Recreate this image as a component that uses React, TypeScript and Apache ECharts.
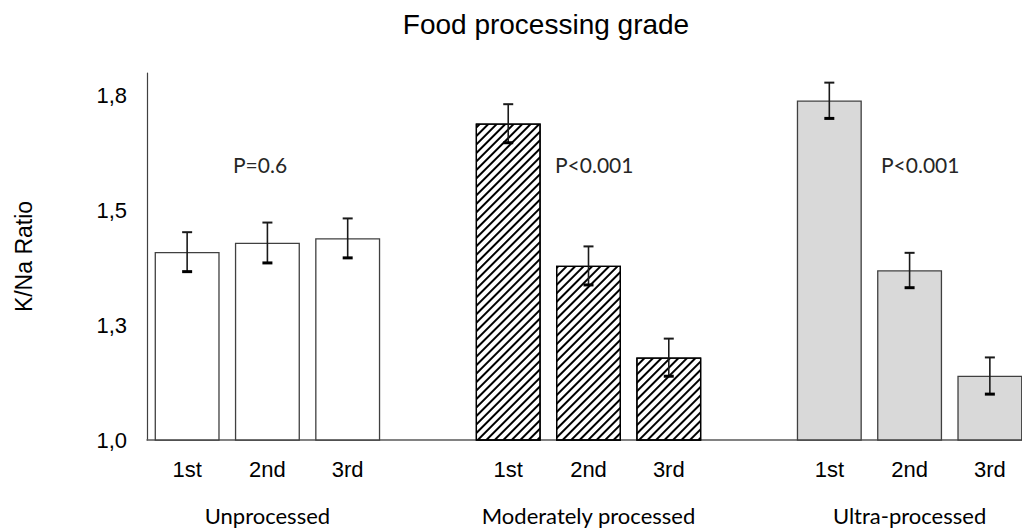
import React, { useEffect, useRef } from "react";
import * as echarts from "echarts";

// Tertiles of the K/Na ratio, laid out as three groups of bars with a blank slot between groups
const categories = ["1st", "2nd", "3rd", "", "1st", "2nd", "3rd", "", "1st", "2nd", "3rd"];
const groupNames = ["Unprocessed", "Moderately processed", "Ultra-processed"];

// Mean K/Na ratio per tertile
const unprocessed = [1.41, 1.43, 1.44];
const moderately = [1.69, 1.38, 1.18];
const ultra = [1.74, 1.37, 1.14];

// Error (±) per tertile
const unprocessedErr = [0.043, 0.044, 0.043];
const moderatelyErr = [0.042, 0.042, 0.041];
const ultraErr = [0.039, 0.038, 0.04];

// Trend test p-values per group
const pValues = ["P=0.6", "P<0.001", "P<0.001"];

// Y axis ticks and their printed labels (one decimal, comma separator)
const yTicks = [1.0, 1.25, 1.5, 1.75];
const yTickLabels = ["1,0", "1,3", "1,5", "1,8"];

const seriesValues = [unprocessed, moderately, ultra];
const seriesErrors = [unprocessedErr, moderatelyErr, ultraErr];

const hatch = {
  symbol: "rect",
  symbolSize: 1,
  color: "#000000",
  backgroundColor: "#ffffff",
  dashArrayX: [1, 0],
  dashArrayY: [2, 3.4],
  rotation: -Math.PI / 4,
};

const groupStyles = [
  { color: "#ffffff", borderColor: "#404040", borderWidth: 1.3 },
  { color: "#ffffff", borderColor: "#000000", borderWidth: 1.3, decal: hatch },
  { color: "#d9d9d9", borderColor: "#404040", borderWidth: 1.3 },
];

export default function App() {
  const ref = useRef<HTMLDivElement>(null);

  useEffect(() => {
    if (!ref.current) return;
    const chart = echarts.init(ref.current, null, { renderer: "svg" });

    const barData: any[] = categories.map(() => "-");
    const errData: number[][] = [];
    seriesValues.forEach((vals, g) => {
      vals.forEach((v, i) => {
        const idx = g * 4 + i;
        barData[idx] = { value: v, itemStyle: groupStyles[g] };
        errData.push([idx, v, seriesErrors[g][i]]);
      });
    });

    const groupAxisData = categories.map((_, idx) =>
      idx % 4 === 1 ? groupNames[Math.floor(idx / 4)] : ""
    );

    const pX = [233, 555, 881];

    chart.setOption({
      animation: false,
      backgroundColor: "#ffffff",
      grid: {
        left: 147,
        width: 883,
        top: 73,
        height: 367,
        containLabel: false,
        outerBoundsMode: "none",
      },
      xAxis: [
        {
          type: "category",
          data: categories,
          position: "bottom",
          axisLine: { show: true, lineStyle: { color: "#595959", width: 1.5 } },
          axisTick: { show: false },
          axisLabel: {
            interval: 0,
            margin: 18,
            color: "#000000",
            fontSize: 22,
            fontFamily: "Liberation Sans, Arial, sans-serif",
          },
        },
        {
          type: "category",
          data: groupAxisData,
          position: "bottom",
          axisLine: { show: false },
          axisTick: { show: false },
          axisLabel: {
            interval: 0,
            margin: 64,
            color: "#000000",
            fontSize: 22,
            fontFamily: "Lato, sans-serif",
          },
        },
      ],
      yAxis: {
        type: "value",
        min: 1.0,
        max: 1.8,
        interval: 0.25,
        name: "K/Na Ratio",
        nameLocation: "middle",
        nameGap: 112,
        nameTextStyle: {
          color: "#000000",
          fontSize: 23,
          fontFamily: "Liberation Sans, Arial, sans-serif",
        },
        axisLine: { show: true, lineStyle: { color: "#404040", width: 1.2 } },
        axisTick: { show: false },
        splitLine: { show: false },
        axisLabel: {
          margin: 20,
          color: "#000000",
          fontSize: 22,
          fontFamily: "Liberation Sans, Arial, sans-serif",
          formatter: (value: number) => {
            const i = yTicks.findIndex((t) => Math.abs(t - value) < 1e-6);
            return i >= 0 ? yTickLabels[i] : "";
          },
        },
      },
      graphic: [
        {
          type: "text",
          x: 546,
          y: 24,
          style: {
            text: "Food processing grade",
            fill: "#000000",
            fontSize: 28,
            fontFamily: "Liberation Sans, Arial, sans-serif",
            textAlign: "center",
            textVerticalAlign: "middle",
          },
        },
        ...pValues.map((p, g) => ({
          type: "text",
          x: pX[g],
          y: 164,
          style: {
            text: p,
            fill: "#262626",
            fontSize: 21,
            fontFamily: "Lato, sans-serif",
            textAlign: "left",
            textVerticalAlign: "middle",
          },
        })),
      ],
      series: [
        {
          type: "bar",
          data: barData,
          barWidth: 65,
          xAxisIndex: 0,
        },
        {
          type: "custom",
          xAxisIndex: 0,
          data: errData,
          encode: { x: 0, y: 1 },
          z: 5,
          renderItem: (params: any, api: any) => {
            const idx = api.value(0);
            const v = api.value(1);
            const e = api.value(2);
            const top = api.coord([idx, v + e]);
            const bot = api.coord([idx, v - e]);
            const half = 5;
            return {
              type: "group",
              children: [
                { type: "line", shape: { x1: top[0], y1: top[1], x2: bot[0], y2: bot[1] }, style: { stroke: "#1a1a1a", lineWidth: 1.6 } },
                { type: "line", shape: { x1: top[0] - half, y1: top[1], x2: top[0] + half, y2: top[1] }, style: { stroke: "#1a1a1a", lineWidth: 2 } },
                { type: "line", shape: { x1: bot[0] - half, y1: bot[1], x2: bot[0] + half, y2: bot[1] }, style: { stroke: "#000000", lineWidth: 3 } },
              ],
            };
          },
        },
      ],
    });

    return () => chart.dispose();
  }, []);

  return (
    <div
      ref={ref}
      style={{ position: "fixed", left: 0, top: 0, width: 1022, height: 532 }}
    />
  );
}
